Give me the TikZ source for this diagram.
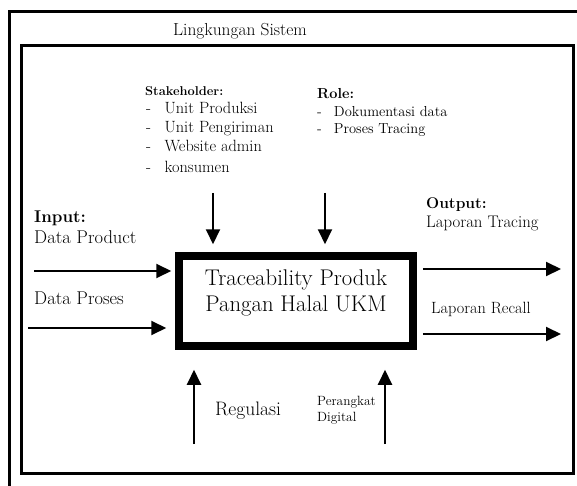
\documentclass[tikz,border=0pt]{standalone}
\usepackage{fontspec}
\usetikzlibrary{arrows.meta,positioning,calc}

\newcommand{\fs}[1]{\fontsize{#1}{#1}\selectfont}

\begin{document}
\begin{tikzpicture}[x=1pt,y=-1pt,
  every node/.style={inner sep=0pt},
  lbl/.style={anchor=base west},
  frame/.style={line width=3pt},
  arr/.style={line width=2pt,-{Triangle[length=15pt,width=14pt]}}]
  \useasboundingbox (0,0) rectangle (577,486);
  \clip (0,0) rectangle (577,486);
  % Frames
  \draw[frame] (9,12) rectangle (600,520);
  \draw[frame] (21,46) rectangle (573,473);
  \node[font=\fs{17.4}] (env) at (240,31) {Lingkungan Sistem};
  % Main process
  \node[draw,line width=7.5pt,minimum width=234pt,minimum height=90pt] (box) at (296,301) {};
  \node[align=center,font=\fs{22.7}] (title) at (296,293)
        {Traceability Produk\\[2.5pt]Pangan Halal UKM};
  % Stakeholder
  \node[lbl,font=\bfseries\fs{12.8}] (stk) at (145,96) {Stakeholder:};
  \node[lbl,font=\fs{16.3}] (s1) at (146,114) {-\hspace{13.5pt}Unit Produksi};
  \node[lbl,font=\fs{16.3}] (s2) at (146,133) {-\hspace{13.5pt}Unit Pengiriman};
  \node[lbl,font=\fs{16.3}] (s3) at (146,152) {-\hspace{13.5pt}Website admin};
  \node[lbl,font=\fs{16.3}] (s4) at (146,173) {-\hspace{13.5pt}konsumen};
  % Role
  \node[lbl,font=\bfseries\fs{14.5}] (role) at (317,99) {Role:};
  \node[lbl,font=\fs{14.5}] (r1) at (317,117) {-\hspace{12pt}Dokumentasi data};
  \node[lbl,font=\fs{14.5}] (r2) at (317,134) {-\hspace{12pt}Proses Tracing};
  % Input
  \node[lbl,font=\bfseries\fs{17}] (inp) at (34,222) {Input:};
  \node[lbl,font=\fs{18.5}] (dprod) at (34,243) {Data Product};
  \node[lbl,font=\fs{18.5}] (dpros) at (34,304) {Data Proses};
  % Output
  \node[lbl,font=\bfseries\fs{15.5}] (outp) at (426,208) {Output:};
  \node[lbl,font=\fs{16.8}] (ltrace) at (426,227) {Laporan Tracing};
  \node[lbl,font=\fs{16.3}] (lrecall) at (431,313) {Laporan Recall};
  % Control / mechanism
  \node[lbl,font=\fs{19.5}] (reg) at (215,415) {Regulasi};
  \node[lbl,font=\fs{13.4}] (dig) at (317,405) {Perangkat};
  \node[lbl,font=\fs{13.4}] (dig2) at (317,421) {Digital};
  % Free ends
  \coordinate (in1) at (34,271);
  \coordinate (in2) at (28,328);
  \coordinate (out1) at (561,269);
  \coordinate (out2) at (561,334);
  \coordinate (top1) at (213,193);
  \coordinate (top2) at (325,193);
  \coordinate (bot1) at (194,444);
  \coordinate (bot2) at (385,444);
  % Arrows
  \draw[arr,shorten >=4pt] (in1) -- (in1 -| box.west);
  \draw[arr,shorten >=9pt] (in2) -- (in2 -| box.west);
  \draw[arr,shorten <=6pt] (out1 -| box.east) -- (out1);
  \draw[arr,shorten <=6pt] (out2 -| box.east) -- (out2);
  \draw[arr,shorten >=8pt] (top1) -- (top1 |- box.north);
  \draw[arr,shorten >=8pt] (top2) -- (top2 |- box.north);
  \draw[arr,shorten >=20pt] (bot1) -- (bot1 |- box.south);
  \draw[arr,shorten >=20pt] (bot2) -- (bot2 |- box.south);
\end{tikzpicture}
\end{document}
